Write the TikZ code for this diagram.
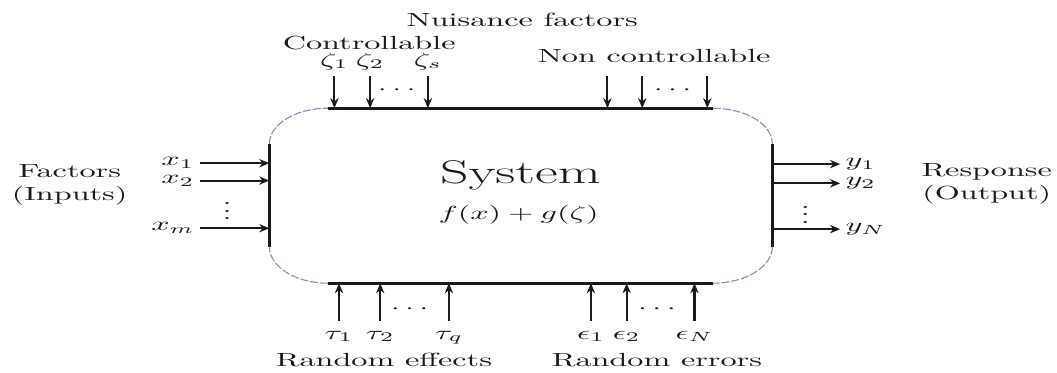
\documentclass[tikz,border=0pt]{standalone}
\usepackage{amsmath,amssymb}
\usepackage{xcolor}
\usepackage{tikz}
\usetikzlibrary{arrows.meta,positioning}
\definecolor{inkx}{HTML}{1A1A1A}
\definecolor{arcx}{HTML}{8A92B0}
\tikzset{
  ar/.style={-{Stealth[length=1.1mm,width=0.9mm]},line width=0.65pt,inkx},
  side/.style={line width=0.95pt,inkx},
  corner/.style={arcx,line width=0.35pt,dash pattern=on 2.5pt off 0.6pt},
  squash/.style={yscale=0.59,transform shape},
  lab/.style={inner sep=1.5pt},
  dots/.style={inner sep=0pt},
  two/.style={align=center,inner sep=0pt}
}
\begin{document}
\begin{tikzpicture}[x=1mm,y=1mm,every node/.style={squash,text=inkx}]
\useasboundingbox (0,0) rectangle (115.37,40.71);
% box
\draw[side] (35.8,28.9) -- (77.8,28.9);
\draw[side] (35.8,9.8) -- (77.8,9.8);
\draw[side] (29.4,25.0) -- (29.4,13.8);
\draw[side] (84.3,25.0) -- (84.3,13.8);
\draw[corner] (29.4,25.0) arc[start angle=180,end angle=90,x radius=6.4,y radius=3.9];
\draw[corner] (77.8,28.9) arc[start angle=90,end angle=0,x radius=6.5,y radius=3.9];
\draw[corner] (84.3,13.8) arc[start angle=0,end angle=-90,x radius=6.5,y radius=4.0];
\draw[corner] (35.8,9.8) arc[start angle=270,end angle=180,x radius=6.4,y radius=4.0];
\node[font=\LARGE,anchor=base] (sys) at (56.8,20.7) {System};
\node[anchor=base] (fun) at (56.6,16.8) {$f(x)+g(\zeta)$};
% top: nuisance factors
\node[anchor=base] (nuis) at (57.0,37.8) {Nuisance factors};
\node[anchor=base] (ctrl) at (40.3,35.3) {Controllable};
\node[anchor=base] (nctrl) at (71.4,33.9) {Non controllable};
\foreach \x/\t [count=\i] in {36.5/\zeta_1,40.4/\zeta_2,46.7/\zeta_s}{
  \coordinate (zt\i) at (\x,32.4);
  \coordinate (zb\i) at (\x,28.9);
  \draw[ar] (zt\i) -- (zb\i);
  \node[anchor=base] (zl\i) at (\x,33.5) {$\t$};
}
\node[dots] (zdots) at (43.6,30.9) {$\cdots$};
\foreach \x [count=\i] in {66.3,70.1,77.2}{
  \coordinate (nt\i) at (\x,32.4);
  \coordinate (nb\i) at (\x,28.9);
  \draw[ar] (nt\i) -- (nb\i);
}
\node[dots] (ndots) at (73.7,30.9) {$\cdots$};
% left: inputs
\node[two] (inp) at (7.6,20.5) {Factors\\(Inputs)};
\foreach \y/\t [count=\i] in {22.9/x_1,21.0/x_2,15.8/x_m}{
  \coordinate (xs\i) at (21.8,\y);
  \coordinate (xe\i) at (29.4,\y);
  \draw[ar] (xs\i) -- (xe\i);
  \node[lab,left] (xl\i) at (xs\i) {$\t$};
}
\node[dots] (xdots) at (24.8,18.3) {$\vdots$};
% right: outputs
\node[two] (outp) at (107.7,20.6) {Response\\(Output)};
\foreach \y/\t [count=\i] in {22.8/y_1,20.7/y_2,15.7/y_N}{
  \coordinate (ys\i) at (84.3,\y);
  \coordinate (ye\i) at (91.7,\y);
  \draw[ar] (ys\i) -- (ye\i);
  \node[lab,right] (yl\i) at (ye\i) {$\t$};
}
\node[dots] (ydots) at (87.9,17.9) {$\vdots$};
% bottom: random effects and errors
\foreach \x/\t [count=\i] in {37.0/\tau_1,41.5/\tau_2,49.0/\tau_q}{
  \coordinate (tb\i) at (\x,5.7);
  \coordinate (tt\i) at (\x,9.8);
  \draw[ar] (tb\i) -- (tt\i);
  \node[anchor=base] (tl\i) at (\x,3.7) {$\t$};
}
\node[dots] (tdots) at (45.0,7.0) {$\cdots$};
\foreach \x/\t [count=\i] in {64.5/\epsilon_1,68.4/\epsilon_2,75.8/\epsilon_N}{
  \coordinate (eb\i) at (\x,5.7);
  \coordinate (et\i) at (\x,9.8);
  \draw[ar] (eb\i) -- (et\i);
  \node[anchor=base] (el\i) at (\x,3.7) {$\t$};
}
\node[dots] (edots) at (72.0,7.0) {$\cdots$};
\node[anchor=base] (reff) at (41.9,0.7) {Random effects};
\node[anchor=base] (rerr) at (71.7,0.7) {Random errors};
\end{tikzpicture}
\end{document}
